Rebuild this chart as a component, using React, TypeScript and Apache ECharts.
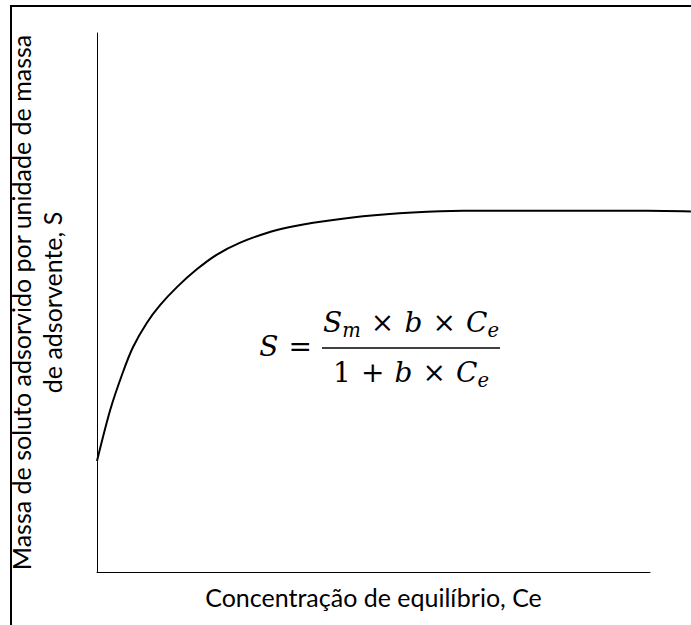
import { useEffect, useRef } from "react";
import * as echarts from "echarts";

// Langmuir isotherm: adsorbed mass S against equilibrium concentration Ce
const ceValues = [0, 2.4, 4.7, 6.5, 9.0, 11.4, 14.5, 18.1, 21.7, 25.9, 30.7, 34.9, 39.1, 48.1, 57.1, 66.2, 75.2, 87.3, 99.5, 107.4];
const sValues = [20.6, 30.1, 37.1, 41.7, 46.2, 49.5, 52.9, 56.2, 58.9, 61.1, 62.9, 64.0, 64.8, 66.0, 66.7, 67.0, 67.0, 67.0, 67.0, 66.9];

const xAxisTitle = "Concentração de equilíbrio, Ce";
const yAxisTitle = "Massa de soluto adsorvido por unidade de massa\nde adsorvente, S";

// formula pieces; "op" pieces get math spacing on both sides
type Seg = { t: string; italic?: boolean; sub?: boolean; op?: boolean };
const formulaLhs: Seg[] = [{ t: "S", italic: true }, { t: "=", op: true }];
const formulaNum: Seg[] = [
  { t: "S", italic: true }, { t: "m", italic: true, sub: true },
  { t: "×", op: true }, { t: "b", italic: true }, { t: "×", op: true },
  { t: "C", italic: true }, { t: "e", italic: true, sub: true },
];
const formulaDen: Seg[] = [
  { t: "1" }, { t: "+", op: true }, { t: "b", italic: true }, { t: "×", op: true },
  { t: "C", italic: true }, { t: "e", italic: true, sub: true },
];

const LABEL_FONT = "Lato, 'Open Sans', sans-serif";
const MATH_FONT = "'DejaVu Serif', serif";
const MATH_SIZE = 28;
const SUB_SCALE = 0.7;

const W = 691;
const H = 625;
const AXIS_LEFT = 97;
const AXIS_RIGHT = 650;
const AXIS_TOP = 33;
const AXIS_BOTTOM = 572;
const X_MAX = 100;
// the curve runs on past the end of the x axis, up to the page edge
const X_MAX_CURVE = (X_MAX * (W - AXIS_LEFT)) / (AXIS_RIGHT - AXIS_LEFT);

let measureCtx: CanvasRenderingContext2D | null = null;
function textWidth(text: string, font: string): number {
  if (!measureCtx) measureCtx = document.createElement("canvas").getContext("2d");
  measureCtx!.font = font;
  return measureCtx!.measureText(text).width;
}
function mathFont(size: number, italic: boolean) {
  return `${italic ? "italic " : ""}${size}px ${MATH_FONT}`;
}
function segFont(s: Seg) {
  return mathFont(s.sub ? MATH_SIZE * SUB_SCALE : MATH_SIZE, !!s.italic);
}
function glyphWidth(segs: Seg[]) {
  return segs.reduce((acc, s) => acc + textWidth(s.t, segFont(s)), 0);
}
function opCount(segs: Seg[]) {
  return segs.filter((s) => s.op).length;
}
function rowWidth(segs: Seg[], gap: number) {
  return glyphWidth(segs) + opCount(segs) * 2 * gap;
}
function layoutRow(segs: Seg[], startX: number, midY: number, gap: number, out: any[]) {
  let x = startX;
  for (const s of segs) {
    const font = segFont(s);
    if (s.op) x += gap;
    out.push({
      type: "text",
      x,
      y: midY + (s.sub ? MATH_SIZE * 0.3 : 0),
      silent: true,
      style: {
        text: s.t,
        font,
        fill: "#000",
        align: "left",
        textAlign: "left",
        verticalAlign: "middle",
        textVerticalAlign: "middle",
      },
    });
    x += textWidth(s.t, font);
    if (s.op) x += gap;
  }
}

const hiddenAxis = {
  type: "value" as const,
  show: false,
  axisLine: { show: false },
  axisTick: { show: false },
  axisLabel: { show: false },
  splitLine: { show: false },
};

export default function App() {
  const ref = useRef<HTMLDivElement>(null);

  useEffect(() => {
    if (!ref.current) return;
    const chart = echarts.init(ref.current, null, { renderer: "svg" });

    const labelSize = Math.round((336 / textWidth(xAxisTitle, `100px ${LABEL_FONT}`)) * 100 * 10) / 10;

    // formula: numerator fills the fraction bar, operators share the spare width
    const barX1 = 322;
    const barX2 = 500;
    const barY = 348;
    const numTarget = 176;
    const gap = Math.max(2, (numTarget - glyphWidth(formulaNum)) / (2 * opCount(formulaNum)));
    const graphics: any[] = [];
    const numW = rowWidth(formulaNum, gap);
    const denW = rowWidth(formulaDen, gap);
    const lhsW = rowWidth(formulaLhs, gap);
    const barMid = (barX1 + barX2) / 2;
    layoutRow(formulaNum, barMid - numW / 2, barY - 26, gap, graphics);
    layoutRow(formulaDen, barMid - denW / 2, barY + 24, gap, graphics);
    layoutRow(formulaLhs, barX1 - lhsW, barY - 2, gap, graphics);
    graphics.push({
      type: "line",
      silent: true,
      shape: { x1: barX1, y1: barY, x2: barX2, y2: barY },
      style: { stroke: "#000", lineWidth: 1.6 },
    });

    // outer frame
    graphics.push({
      type: "rect",
      silent: true,
      shape: { x: 11, y: 6, width: 900, height: 900 },
      style: { fill: "none", stroke: "#000", lineWidth: 2 },
    });

    chart.setOption({
      animation: false,
      backgroundColor: "#fff",
      grid: [
        {
          left: AXIS_LEFT, right: W - AXIS_RIGHT, top: AXIS_TOP, bottom: H - AXIS_BOTTOM,
          containLabel: false, outerBoundsMode: "none",
        },
        {
          left: AXIS_LEFT, right: 0, top: AXIS_TOP, bottom: H - AXIS_BOTTOM,
          containLabel: false, outerBoundsMode: "none",
        },
      ],
      xAxis: [
        {
          type: "value",
          gridIndex: 0,
          min: 0,
          max: X_MAX,
          name: xAxisTitle,
          nameLocation: "middle",
          nameGap: 12,
          nameTextStyle: { fontFamily: LABEL_FONT, fontSize: labelSize, color: "#000", verticalAlign: "top" },
          axisLine: { show: true, lineStyle: { color: "#000", width: 1 } },
          axisTick: { show: false },
          axisLabel: { show: false },
          splitLine: { show: false },
        },
        { ...hiddenAxis, gridIndex: 1, min: 0, max: X_MAX_CURVE },
      ],
      yAxis: [
        {
          type: "value",
          gridIndex: 0,
          min: 0,
          max: 100,
          name: yAxisTitle,
          nameLocation: "middle",
          nameGap: 30,
          nameRotate: 90,
          nameTextStyle: { fontFamily: LABEL_FONT, fontSize: labelSize, color: "#000", lineHeight: labelSize * 1.22 },
          axisLine: { show: true, lineStyle: { color: "#000", width: 1 } },
          axisTick: { show: false },
          axisLabel: { show: false },
          splitLine: { show: false },
        },
        { ...hiddenAxis, gridIndex: 1, min: 0, max: 100 },
      ],
      series: [
        {
          type: "line",
          xAxisIndex: 1,
          yAxisIndex: 1,
          data: ceValues.map((c, i) => [c, sValues[i]]),
          smooth: 0.3,
          showSymbol: false,
          lineStyle: { color: "#000", width: 2 },
        },
      ],
      graphic: graphics,
    });

    return () => chart.dispose();
  }, []);

  return <div ref={ref} style={{ position: "fixed", left: 0, top: 0, width: W, height: H, background: "#fff" }} />;
}
